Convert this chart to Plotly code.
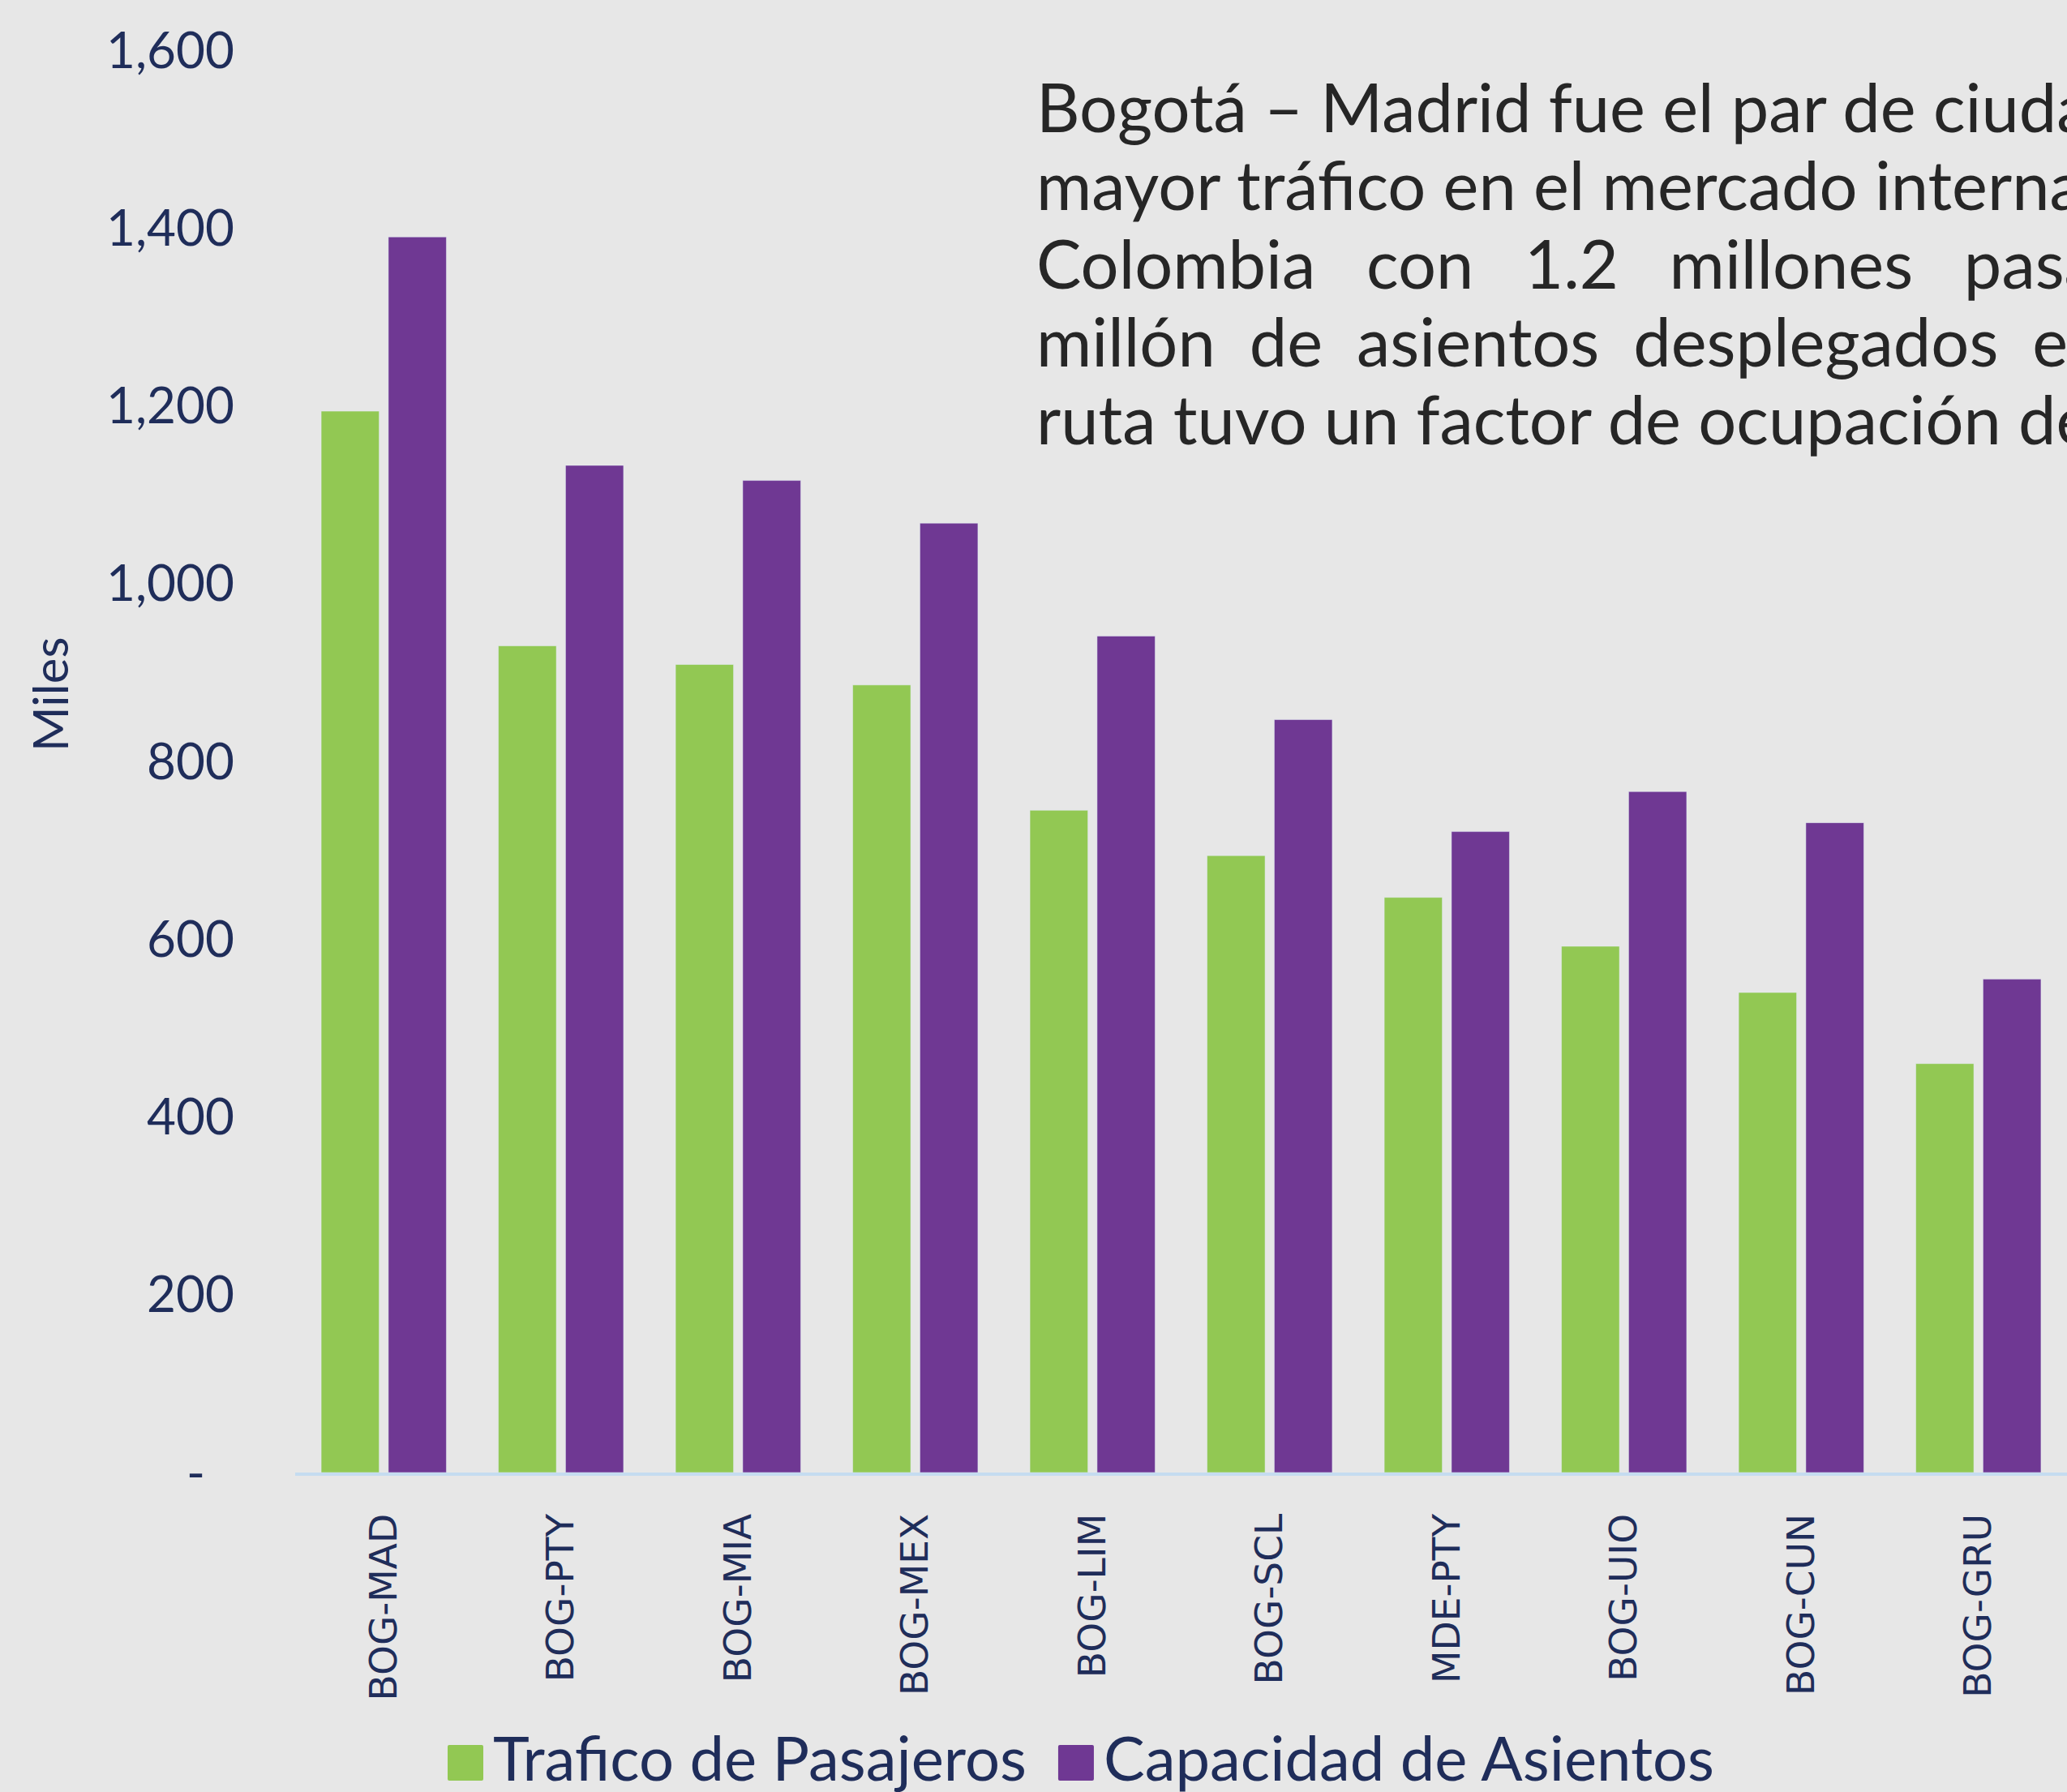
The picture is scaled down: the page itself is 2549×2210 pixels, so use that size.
import plotly.graph_objects as go

routes = ["BOG-MAD", "BOG-PTY", "BOG-MIA", "BOG-MEX", "BOG-LIM",
          "BOG-SCL", "MDE-PTY", "BOG-UIO", "BOG-CUN", "BOG-GRU"]
trafico = [1194, 930, 909, 886, 745, 694, 647, 592, 540, 460]
capacidad = [1390, 1133, 1116, 1068, 941, 847, 721, 766, 731, 555]
series_names = ["Trafico de Pasajeros", "Capacidad de Asientos"]
ytick_vals = [0, 200, 400, 600, 800, 1000, 1200, 1400, 1600]
ytick_text = ["-\u2007", "200", "400", "600", "800", "1,000", "1,200", "1,400", "1,600"]
y_title = "Miles"
note_lines = [
    "Bogotá – Madrid fue el par de ciudades",
    "mayor tráfico en el mercado internacional",
    "Colombia \u2002con \u20021.2 \u2002millones \u2002pasajeros",
    "millón \u2009\u2009de \u2009\u2009asientos \u2009\u2009desplegados \u2009\u2009en",
    "ruta tuvo un factor de ocupación de",
]
note_y = [0.9606, 0.9059, 0.8506, 0.7959, 0.7412]

GREEN = "#92C853"
PURPLE = "#6F3893"
NAVY = "#1F2D5A"
BG = "#E7E7E7"

fig = go.Figure()
fig.add_trace(go.Bar(x=routes, y=trafico, name=series_names[0], marker_color=GREEN))
fig.add_trace(go.Bar(x=routes, y=capacidad, name=series_names[1], marker_color=PURPLE))

fig.update_layout(
    width=2549, height=2210,
    margin=dict(l=364, r=0, t=62, b=394, pad=0),
    paper_bgcolor=BG, plot_bgcolor=BG,
    barmode="group", bargap=0.2416, bargroupgap=0.137,
    font=dict(family="Lato", color=NAVY),
    showlegend=True,
    legend=dict(orientation="h", x=0.0691, xanchor="left", y=-0.215, yanchor="bottom",
                font=dict(family="Lato", size=76, color=NAVY), bgcolor="rgba(0,0,0,0)",
                itemwidth=80),
)
fig.update_xaxes(
    type="category", showline=True, linecolor="#C5DCF0", linewidth=4,
    showgrid=False, zeroline=False, ticks="", tickangle=-90,
    tickfont=dict(family="DejaVu Sans", size=47, color=NAVY),
    ticklabelstandoff=28,
)
fig.update_yaxes(
    range=[0, 1600], showgrid=False, zeroline=False, showline=False, ticks="",
    tickvals=ytick_vals, ticktext=ytick_text,
    tickfont=dict(family="Lato", size=62, color=NAVY),
    ticklabelstandoff=74,
)
fig.add_annotation(
    text=y_title, xref="paper", yref="paper", x=-0.1389, y=0.547,
    xanchor="center", yanchor="middle", textangle=-90, showarrow=False,
    font=dict(family="Lato", size=60, color=NAVY),
)
for line, yy in zip(note_lines, note_y):
    fig.add_annotation(
        text=line, xref="paper", yref="paper", x=0.4174, y=yy,
        xanchor="left", yanchor="middle", align="left", showarrow=False,
        font=dict(family="Lato", size=83, color="#262626"),
    )

post = """
document.body.style.margin = '0';
document.body.style.overflow = 'hidden';
var gd = document.getElementById('{plot_id}');
function fixLegend(){
  var lg = gd.querySelector('g.legend');
  if(!lg){ return; }
  var s = 44;
  lg.querySelectorAll('.traces').forEach(function(it){
    var t = it.querySelector('text.legendtext');
    var p = it.querySelector('.legendpoints path');
    if(!t || !p){ return; }
    var fill = p.style.fill || p.getAttribute('fill');
    p.style.opacity = '0';
    var bb = t.getBBox();
    var baseline = bb.y + bb.height * (0.987 / 1.2);
    var r = it.querySelector('rect.bigswatch');
    if(!r){
      r = document.createElementNS('http://www.w3.org/2000/svg', 'rect');
      r.setAttribute('class', 'bigswatch');
      it.appendChild(r);
    }
    r.setAttribute('x', bb.x - 12 - s);
    r.setAttribute('y', baseline - s);
    r.setAttribute('width', s);
    r.setAttribute('height', s);
    r.setAttribute('rx', 2);
    r.style.fill = fill;
  });
  var first = lg.querySelector('rect.bigswatch');
  var svg = gd.querySelector('svg.main-svg');
  if(!first || !svg){ return; }
  var sr = svg.getBoundingClientRect();
  var rr = first.getBoundingClientRect();
  var dx = 552 - (rr.left - sr.left);
  var dy = 2196 - (rr.bottom - sr.top);
  var m = /translate\\(\\s*([-\\d.e]+)[\\s,]+([-\\d.e]+)\\s*\\)/.exec(lg.getAttribute('transform') || '');
  if(m){
    lg.setAttribute('transform', 'translate(' + (parseFloat(m[1]) + dx) + ',' + (parseFloat(m[2]) + dy) + ')');
  }
}
fixLegend();
gd.on('plotly_afterplot', fixLegend);
"""
fig.write_html("out.html", post_script=post, config={"displayModeBar": False})
